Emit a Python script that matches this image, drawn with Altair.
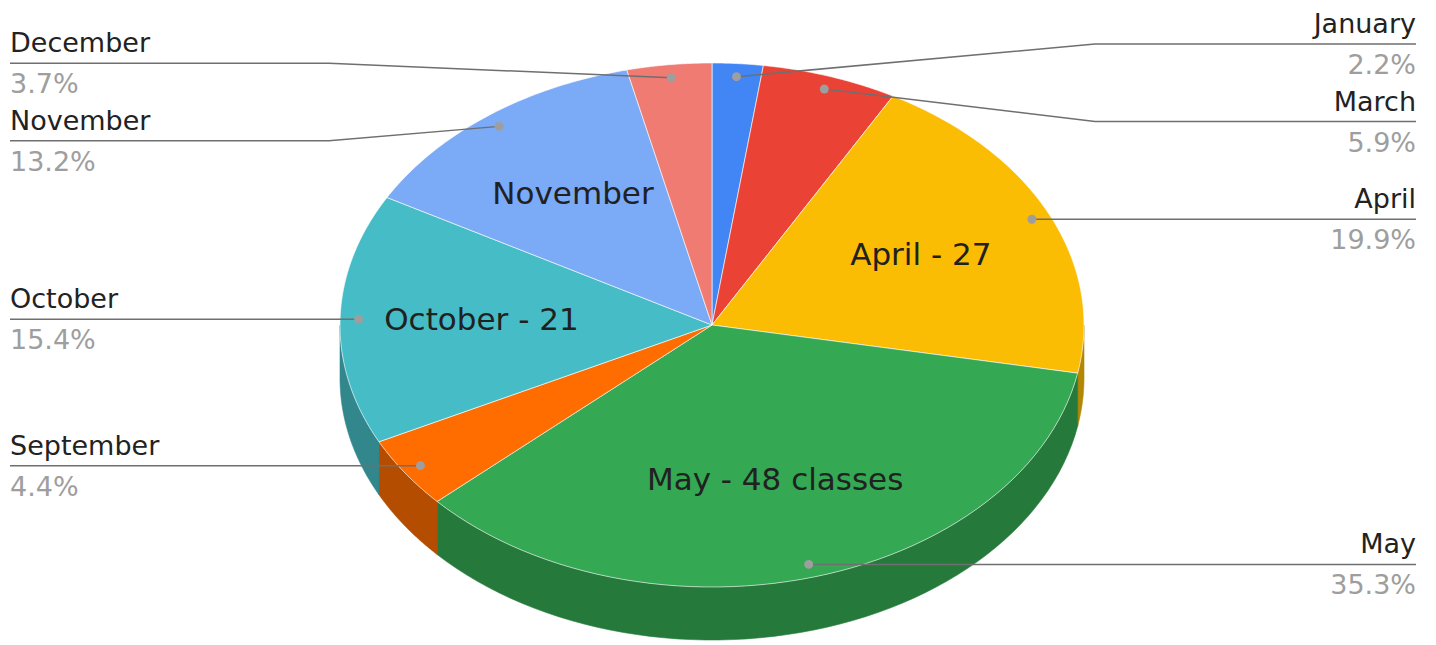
import math
import altair as alt
import pandas as pd

# ---------------- data ----------------
months = ["January", "March", "April", "May", "September", "October", "November", "December"]
classes = [3, 8, 27, 48, 6, 21, 18, 5]
inner_labels = ["", "", "April - 27", "May - 48 classes", "", "October - 21", "November", ""]

# ---------------- style / layout ----------------
top_colors = ["#4285F4", "#EA4335", "#FBBC04", "#34A853", "#FF6D01", "#46BDC6", "#7BAAF7", "#F07B72"]
side_colors = ["#2f5fad", "#a63026", "#b38603", "#25793b", "#b54d01", "#32878d", "#5779af", "#ab5751"]

W, H = 1436, 645
CX, CY, RX, RY, DEPTH = 712, 325, 372, 262, 53
N = 60
DOT_R = 0.95
INNER_R = 0.62
ELBOW = RX + 11
LEFT_X, RIGHT_X = 10, 1416
MIN_GAP = 77.5
FONT = "DejaVu Sans"


def px(a, r=1.0):
    return CX + RX * r * math.sin(a)


def py(a, r=1.0):
    return CY - RY * r * math.cos(a)


total = sum(classes)
rows_top, rows_side, rows_inner, labs = [], [], [], []
cum = 0
for i, (m, v) in enumerate(zip(months, classes)):
    a0 = cum / total * 2 * math.pi
    cum += v
    a1 = cum / total * 2 * math.pi
    # top face polygon
    rows_top.append(dict(month=m, k=0, x=CX, y=CY, col=top_colors[i]))
    for j in range(N + 1):
        a = a0 + (a1 - a0) * j / N
        rows_top.append(dict(month=m, k=j + 1, x=px(a), y=py(a), col=top_colors[i]))
    # visible side wall (front half)
    lo, hi = max(a0, math.pi / 2), min(a1, 3 * math.pi / 2)
    if lo < hi:
        for j in range(N + 1):
            a = lo + (hi - lo) * j / N
            rows_side.append(dict(month=m, k=j, x=px(a), y=py(a), col=side_colors[i]))
        for j in range(N + 1):
            a = hi - (hi - lo) * j / N
            rows_side.append(dict(month=m, k=N + 1 + j, x=px(a), y=py(a) + DEPTH, col=side_colors[i]))
    mid = (a0 + a1) / 2
    if inner_labels[i]:
        rows_inner.append(dict(text=inner_labels[i], x=px(mid, INNER_R), y=py(mid, INNER_R)))
    labs.append(dict(month=m, pct=f"{v / total * 100:.1f}%",
                     side="right" if mid < math.pi else "left",
                     dx=px(mid, DOT_R), dy=py(mid, DOT_R)))

# simple label collision avoidance per side
for side in ("left", "right"):
    grp = sorted([l for l in labs if l["side"] == side], key=lambda l: l["dy"])
    for l in grp:
        l["ly"] = l["dy"]
    for a, b in zip(grp, grp[1:]):
        gap = b["dy"] - a["dy"]
        if gap < MIN_GAP:
            s = (MIN_GAP - gap) / 2
            a["ly"] -= s
            b["ly"] += s

rows_lead, rows_lab = [], []
for l in labs:
    right = l["side"] == "right"
    ex = CX + ELBOW if right else CX - ELBOW
    endx = RIGHT_X if right else LEFT_X
    rows_lead += [dict(month=l["month"], k=0, x=l["dx"], y=l["dy"]),
                  dict(month=l["month"], k=1, x=ex, y=l["ly"]),
                  dict(month=l["month"], k=2, x=endx, y=l["ly"])]
    rows_lab.append(dict(month=l["month"], pct=l["pct"], side=l["side"], x=endx,
                         ny=l["ly"] - 11, py=l["ly"] + 30))

top_df = pd.DataFrame(rows_top)
side_df = pd.DataFrame(rows_side)
inner_df = pd.DataFrame(rows_inner)
lead_df = pd.DataFrame(rows_lead)
lab_df = pd.DataFrame(rows_lab)
dot_df = pd.DataFrame([dict(month=l["month"], x=l["dx"], y=l["dy"]) for l in labs])

X = alt.X("x:Q", scale=alt.Scale(domain=[0, W], nice=False, zero=False), axis=None)
Y = alt.Y("y:Q", scale=alt.Scale(domain=[0, H], nice=False, zero=False, reverse=True), axis=None)

side = alt.Chart(side_df).mark_line(interpolate="linear-closed", strokeWidth=0.6).encode(
    x=X, y=Y,
    fill=alt.Fill("col:N", scale=None),
    stroke=alt.Stroke("col:N", scale=None),
    detail="month:N", order="k:Q")

top = alt.Chart(top_df).mark_line(interpolate="linear-closed", stroke="white",
                                  strokeWidth=1, strokeOpacity=0.6).encode(
    x=X, y=Y,
    fill=alt.Fill("col:N", scale=None),
    detail="month:N", order="k:Q")

inner = alt.Chart(inner_df).mark_text(font=FONT, fontSize=31, color="#212121",
                                      align="center", baseline="middle").encode(
    x=X, y=Y, text="text:N")

lead = alt.Chart(lead_df).mark_line(color="#6f6f6f", strokeWidth=1.5).encode(
    x=X, y=Y, detail="month:N", order="k:Q")

dots = alt.Chart(dot_df).mark_circle(size=80, color="#9e9e9e", opacity=1).encode(x=X, y=Y)

layers = [side, top, inner, lead, dots]
for s, al in (("right", "right"), ("left", "left")):
    base = alt.Chart(lab_df).transform_filter(alt.datum.side == s)
    layers.append(base.mark_text(font=FONT, fontSize=27, color="#222222", align=al,
                                 baseline="alphabetic").encode(
        x=X, y=alt.Y("ny:Q", scale=alt.Scale(domain=[0, H], nice=False, zero=False, reverse=True), axis=None),
        text="month:N"))
    layers.append(base.mark_text(font=FONT, fontSize=27, color="#9e9e9e", align=al,
                                 baseline="alphabetic").encode(
        x=X, y=alt.Y("py:Q", scale=alt.Scale(domain=[0, H], nice=False, zero=False, reverse=True), axis=None),
        text="pct:N"))

chart = alt.layer(*layers).properties(
    width=W, height=H, padding=0, autosize=alt.AutoSizeParams(type="none"),
    background="white"
).configure_view(stroke=None)

chart.save("out.html", embed_options={"renderer": "svg", "actions": False})
